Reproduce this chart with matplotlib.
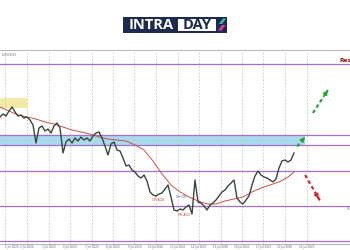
import matplotlib

matplotlib.use("Agg")
import matplotlib.pyplot as plt
from matplotlib.patches import Polygon, Rectangle

# close prices, one per bar (H4 bars)
closes = [
    1.1766, 1.1772, 1.1768, 1.1778, 1.1786, 1.1776, 1.1768, 1.1770, 1.1764, 1.1766,
    1.1760, 1.1750, 1.1714, 1.1744, 1.1748, 1.1738, 1.1742, 1.1734, 1.1748, 1.1754,
    1.1744, 1.1694, 1.1716, 1.1722, 1.1714, 1.1724, 1.1718, 1.1726, 1.1720, 1.1724,
    1.1718, 1.1728, 1.1734, 1.1736, 1.1724, 1.1708, 1.1690, 1.1712, 1.1716, 1.1700,
    1.1698, 1.1684, 1.1668, 1.1670, 1.1660, 1.1656, 1.1648, 1.1644, 1.1650, 1.1638,
    1.1616, 1.1610, 1.1608, 1.1612, 1.1614, 1.1622, 1.1630, 1.1606, 1.1580, 1.1578,
    1.1582, 1.1580, 1.1586, 1.1590, 1.1572, 1.1640, 1.1596, 1.1594, 1.1588, 1.1580,
    1.1590, 1.1594, 1.1600, 1.1608, 1.1616, 1.1620, 1.1628, 1.1634, 1.1640, 1.1604,
    1.1596, 1.1592, 1.1600, 1.1608, 1.1630, 1.1648, 1.1658, 1.1650, 1.1646, 1.1644,
    1.1640, 1.1636, 1.1642, 1.1664, 1.1678, 1.1680, 1.1676, 1.1680, 1.1694,
]

# moving average, sampled every few bars
ma_bars = [0, 3, 6, 9, 12, 15, 18, 21, 24, 27, 30, 33, 36, 39, 42, 45, 48, 51,
           54, 57, 60, 63, 66, 69, 72, 75, 78, 81, 84, 87, 90, 93, 96, 98]
ma_vals = [1.1786, 1.1778, 1.1770, 1.1766, 1.1762, 1.1756, 1.1752, 1.1746, 1.1740,
           1.1736, 1.1732, 1.1726, 1.1722, 1.1720, 1.1718, 1.1710, 1.1700, 1.1678,
           1.1652, 1.1630, 1.1616, 1.1606, 1.1598, 1.1592, 1.1592, 1.1598, 1.1602,
           1.1606, 1.1616, 1.1624, 1.1630, 1.1636, 1.1646, 1.1656]

levels = [1.1872, 1.1729, 1.1710, 1.1659, 1.1589, 1.1518]
zone = (1.1710, 1.1729)
box = (0, 9, 1.1784, 1.1804)

grid_bars = [1.7, 9.0, 16.2, 23.3, 30.5, 37.7, 44.8, 52.0, 59.2, 66.3, 73.5, 80.7, 87.8, 95.0, 102.2]
date_labels = ["1 Jul 2020", "2 Jul 2020", "3 Jul 2020", "6 Jul 2020", "7 Jul 2020",
               "8 Jul 2020", "9 Jul 2020", "10 Jul 2020", "13 Jul 2020", "14 Jul 2020",
               "15 Jul 2020", "16 Jul 2020", "17 Jul 2020", "20 Jul 2020", "21 Jul 2020"]

events = [("CPI AGO", 52.7, 1.1600, "#c0392b"),
          ("GH CM", 60.3, 1.1606, "#3b5fb0"),
          ("PPI AGO", 61.3, 1.1571, "#c0392b")]

PURPLE = "#a36fcf"

fig = plt.figure(figsize=(3.5, 2.5), dpi=100)
ax = fig.add_axes([0, 6 / 250, 1, 194 / 250])
ax.set_xlim(0, 350 / 3)
ax.set_ylim(1.1512, 1.1900)

ax.set_xticks(grid_bars)
ax.set_xticklabels(date_labels, fontsize=2, color="#666666")
ax.get_xticklabels()[0].set_horizontalalignment("left")
ax.tick_params(axis="x", length=0, pad=1)
ax.set_yticks([])
ax.grid(axis="x", color="#c8c8c8", ls=(0, (2, 2)), lw=0.6)
for s in ("left", "right"):
    ax.spines[s].set_visible(False)
for s in ("top", "bottom"):
    ax.spines[s].set_color("#aaaaaa")
    ax.spines[s].set_linewidth(0.6)

ax.add_patch(Rectangle((box[0], box[2]), box[1] - box[0], box[3] - box[2],
                       color="#f3eaa8", lw=0, zorder=1))
ax.axhspan(zone[0], zone[1], xmin=0, xmax=101.7 / (350 / 3), color="#a9d9ec", lw=0, zorder=1)
for lv in levels:
    ax.axhline(lv, color=PURPLE, lw=0.9, zorder=2)

ax.plot(range(len(closes)), closes, color="#3a463a", lw=1.0, zorder=4)
ax.plot(ma_bars, ma_vals, color="#c8504a", lw=0.7, zorder=3)

for txt, x, y, c in events:
    ax.text(x, y, txt, fontsize=2.2, color=c, ha="center", va="center", zorder=5)


def dashed_arrow(p0, p1, color):
    ax.plot([p0[0], p1[0]], [p0[1], p1[1]], color=color, lw=1.6,
            ls=(0, (1.6, 1.3)), zorder=6)
    ax.annotate("", xy=p1, xytext=(p0[0] + 0.8 * (p1[0] - p0[0]), p0[1] + 0.8 * (p1[1] - p0[1])),
                arrowprops=dict(arrowstyle="-|>", color=color, lw=1.2, mutation_scale=6),
                zorder=6)


dashed_arrow((99.0, 1.1707), (101.7, 1.1726), "#2e9e3e")
dashed_arrow((104.3, 1.1774), (109.3, 1.1820), "#2e9e3e")
dashed_arrow((101.7, 1.1650), (106.7, 1.1598), "#d02a2a")

ax.text(113.0, 1.1880, "Res", fontsize=4.2, color="#8b1a1a", fontweight="bold",
        ha="left", va="center")
ax.text(115.6, 1.1582, "S", fontsize=3, color="#5577aa", ha="left", va="center")
ax.text(0.6, 1.1893, "EURUSD,H4", fontsize=1.8, color="#666666", ha="left", va="top")

# logo overlay in pixel coordinates
ov = fig.add_axes([0, 0, 1, 1])
ov.set_xlim(0, 350)
ov.set_ylim(250, 0)
ov.axis("off")
ov.patch.set_alpha(0)
NAVY = "#1d2b4f"
ov.add_patch(Rectangle((123, 16.5), 104, 16, color=NAVY, lw=0))
ov.add_patch(Rectangle((177.5, 18.5), 38.5, 12, color="white", lw=0))
ov.text(151.5, 25, "INTRA", fontsize=10.5, color="white", fontweight="bold",
        family="Open Sans", ha="center", va="center")
ov.text(196.8, 25, "DAY", fontsize=10.5, color=NAVY, fontweight="bold",
        family="Open Sans", ha="center", va="center")
ov.add_patch(Polygon([(219, 24), (223, 18.5), (226, 18.5), (222, 24)], color="#35c2ae", lw=0))
ov.add_patch(Polygon([(218, 30.5), (222, 25), (225.5, 25), (221.5, 30.5)], color="#e6399b", lw=0))

fig.savefig("out.png", dpi=100)
